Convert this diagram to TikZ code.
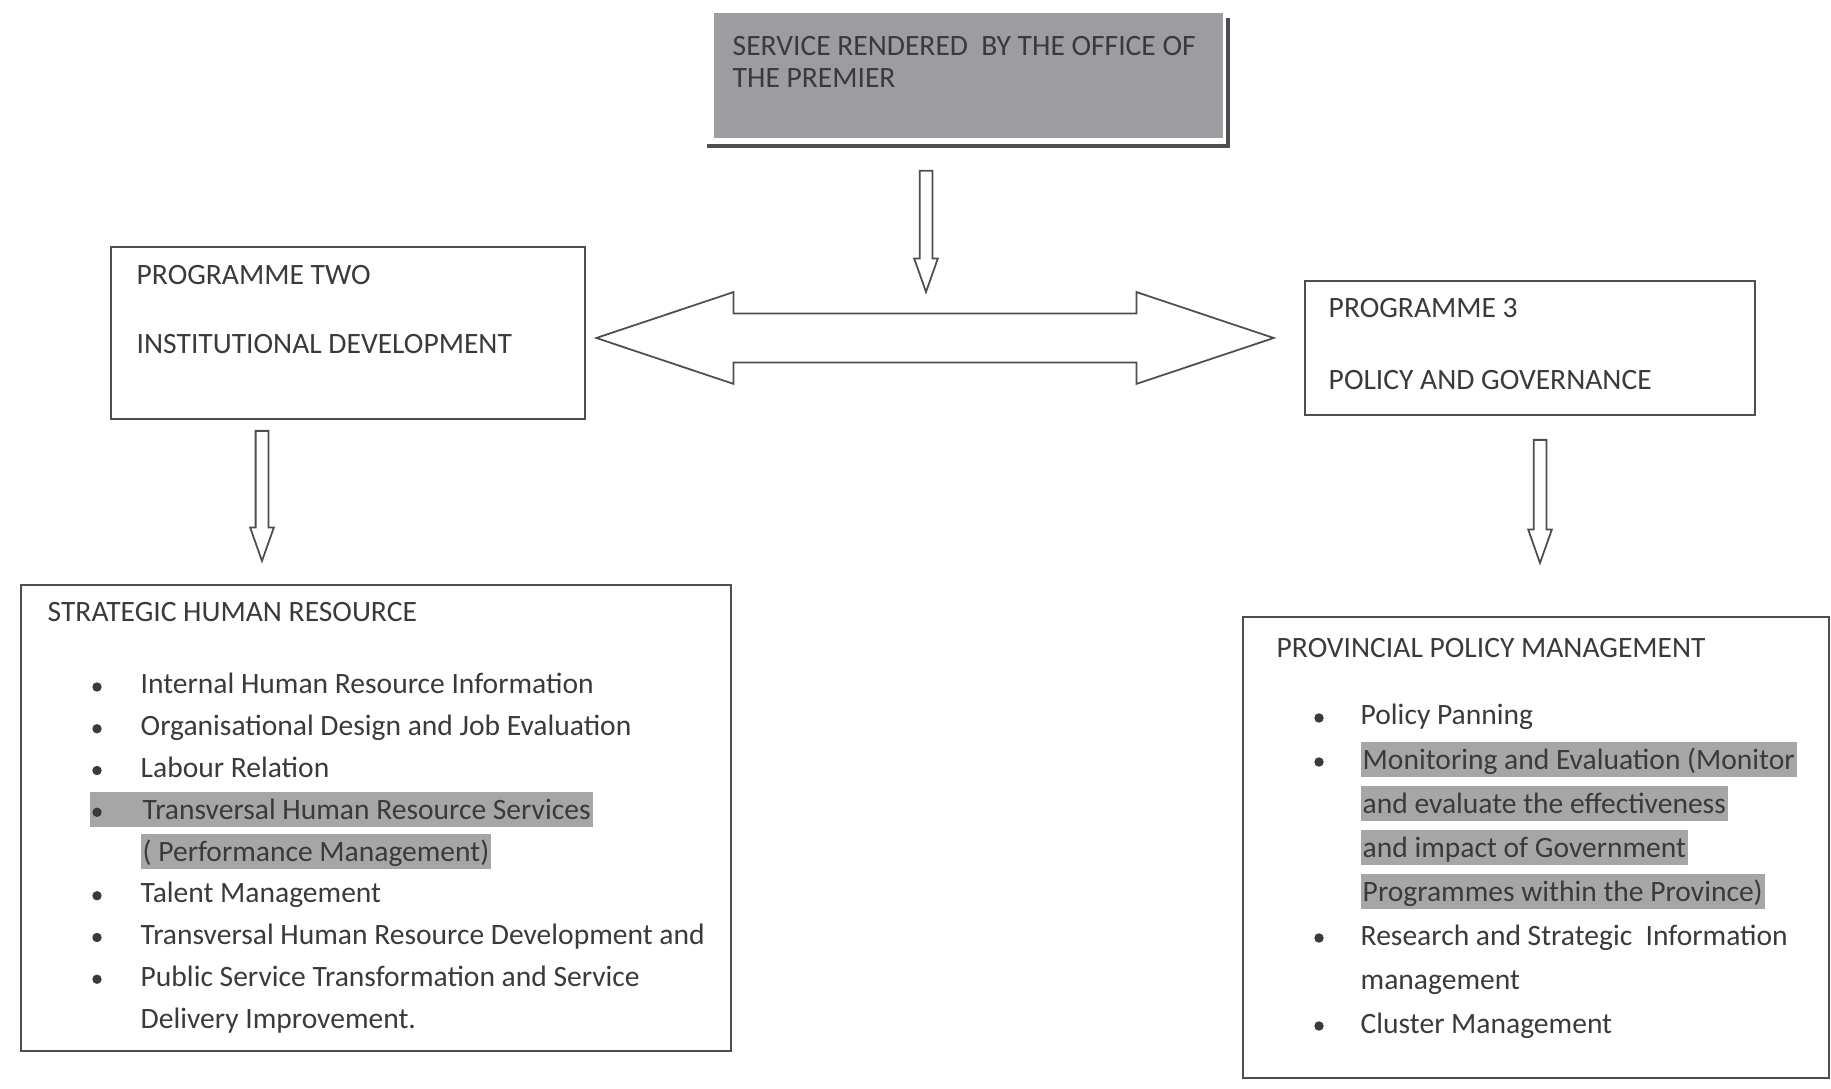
\documentclass[tikz,border=0pt]{standalone}
\usepackage{fontspec}
\setmainfont{Carlito}
\usetikzlibrary{shapes.arrows}
\definecolor{ink}{HTML}{3A3A3A}
\definecolor{edge}{HTML}{4E4E4E}
\definecolor{boxgray}{HTML}{9D9DA1}
\definecolor{hlgray}{HTML}{A6A6A6}

\begin{document}
\begin{tikzpicture}[
  x=0.01cm, y=-0.01cm,
  font=\fontsize{8.4}{10}\selectfont,
  every node/.style={text=ink},
  box/.style={draw=edge, line width=0.5pt, anchor=north west, inner sep=0pt},
  txt/.style={anchor=base west, inner sep=0pt},
  plain/.style={},
  hl/.style={fill=hlgray, inner xsep=0.02cm, inner ysep=0pt, text height=0.27cm, text depth=0.08cm},
  downarr/.style={draw=edge, fill=white, line width=0.5pt, single arrow,
    single arrow head extend=0.055cm, single arrow tip angle=39,
    inner xsep=0pt, inner ysep=0.055cm, rotate=-90, anchor=tail},
  dblarr/.style={draw=edge, fill=white, line width=0.5pt, double arrow,
    double arrow head extend=0.215cm, double arrow tip angle=37,
    inner xsep=0pt, inner ysep=0.235cm, minimum height=6.77cm}
]
  \useasboundingbox (0,0) rectangle (1831,1089);

  \node[anchor=north west, fill=boxgray, inner sep=0pt,
        minimum width=5.09cm, minimum height=1.25cm] (ofp) at (713,12) {};
  \draw[edge, line width=1pt] (707,146) -- (1228,146) -- (1228,18);
  \node[txt] (ofp1) at (732,56) {SERVICE RENDERED\ \ BY THE OFFICE OF};
  \node[txt] (ofp2) at (732,88) {THE PREMIER};

  \node[box, minimum width=4.74cm, minimum height=1.72cm] (prog2) at (110,246) {};
  \node[txt] (prog2a) at (136,285) {PROGRAMME TWO};
  \node[txt] (prog2b) at (136,354) {INSTITUTIONAL DEVELOPMENT};

  \node[box, minimum width=4.50cm, minimum height=1.34cm] (prog3) at (1304,280) {};
  \node[txt] (prog3a) at (1328,318) {PROGRAMME 3};
  \node[txt] (prog3b) at (1328,390) {POLICY AND GOVERNANCE};

  \node[downarr, minimum height=1.21cm] (a0) at (926,170) {};
  \node[dblarr] (a1) at (935,338) {};
  \node[downarr, minimum height=1.30cm] (a2) at (262,430) {};
  \node[downarr, minimum height=1.23cm] (a3) at (1540,439) {};

  \node[box, minimum width=7.10cm, minimum height=4.66cm] (shr) at (20,584) {};
  \node[txt] (shrt) at (47,622) {STRATEGIC HUMAN RESOURCE};
  \fill[hlgray] (90,792) rectangle (142,827);
  \foreach \t/\b/\s [count=\i] in {
    {Internal Human Resource Information}/1/plain,
    {Organisational Design and Job Evaluation}/1/plain,
    {Labour Relation}/1/plain,
    {Transversal Human Resource Services}/1/hl,
    {( Performance Management)}/0/hl,
    {Talent Management}/1/plain,
    {Transversal Human Resource Development and}/1/plain,
    {Public Service Transformation and Service}/1/plain,
    {Delivery Improvement.}/0/plain}{
    \pgfmathsetmacro\yy{694+41.75*(\i-1)}
    \node[txt,\s] (shr\i) at (140,\yy) {\t};
    \ifnum\b=1 \fill[ink] (97,\yy-7) circle (0.047cm); \fi
  }

  \node[box, minimum width=5.86cm, minimum height=4.61cm] (ppm) at (1242,616) {};
  \node[txt] (ppmt) at (1276,658) {PROVINCIAL POLICY MANAGEMENT};
  \foreach \t/\b/\s [count=\i] in {
    {Policy Panning}/1/plain,
    {Monitoring and Evaluation (Monitor}/1/hl,
    {and evaluate the effectiveness}/0/hl,
    {and impact of Government}/0/hl,
    {Programmes within the Province)}/0/hl,
    {Research and Strategic\ \ Information}/1/plain,
    {management}/0/plain,
    {Cluster Management}/1/plain}{
    \pgfmathsetmacro\yy{725+44*(\i-1)}
    \node[txt,\s] (ppm\i) at (1360,\yy) {\t};
    \ifnum\b=1 \fill[ink] (1319,\yy-7) circle (0.047cm); \fi
  }
\end{tikzpicture}
\end{document}
